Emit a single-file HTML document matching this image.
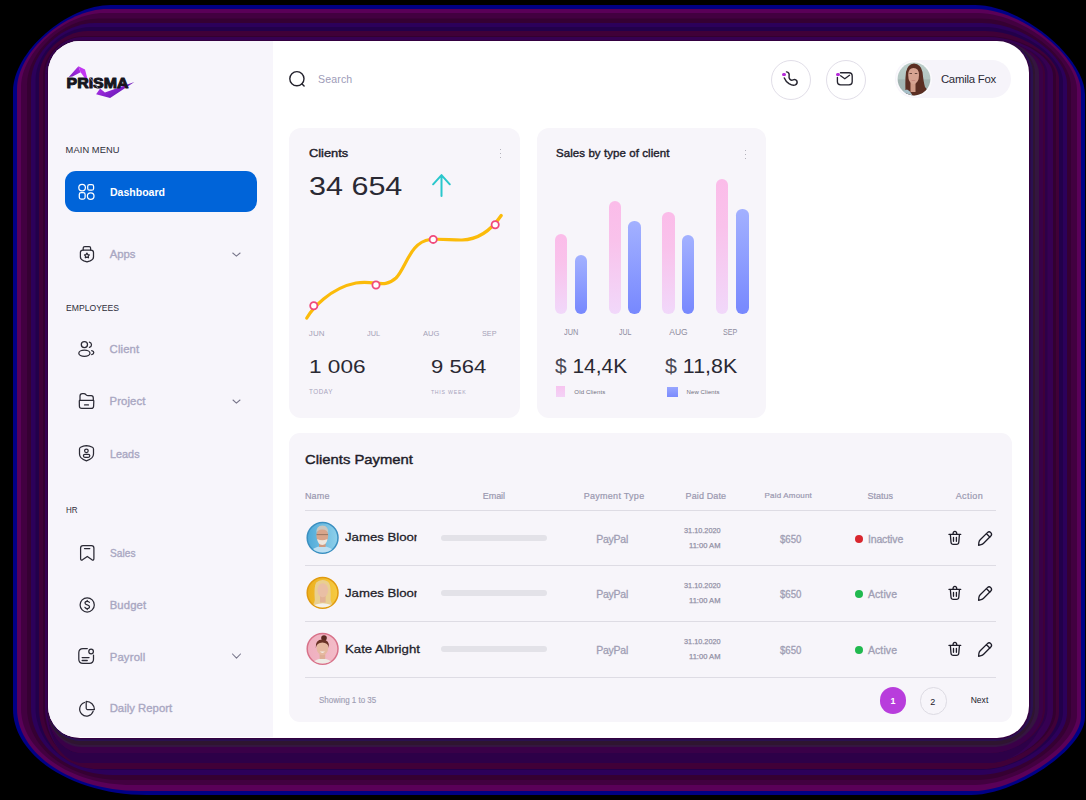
<!DOCTYPE html>
<html><head><meta charset="utf-8"><style>
html,body{margin:0;padding:0;}
body{width:1086px;height:800px;background:#000;position:relative;overflow:hidden;font-family:"Liberation Sans",sans-serif;}
.b{position:absolute;box-sizing:content-box;}
svg.b{overflow:visible;}
.t{position:absolute;white-space:nowrap;line-height:1;}
</style></head><body>
<svg class="b" style="left:0;top:0" width="1086" height="800" viewBox="0 0 1086 800"><path d="M111 5 L975 5 C1021.2 5 1085 57.2 1085 95 L1085 717 C1085 748.2 1016.6 795 971 795 L147 795 C73.3 795 13 756.3 13 709 L13 91 C13 52.3 66.9 5 111 5 Z" fill="#000086"/><path d="M107.46 9 L976.57 9 C1021.42 9 1081 56.67 1081 92.56 L1081 716.23 C1081 746.94 1017.27 791 972.86 791 L139.34 791 C72.03 791 17 754.02 17 708.79 L17 89 C17 52.09 65.72 9 107.46 9 Z" fill="#5a0058"/><path d="M103.91 13 L978.14 13 C1021.53 13 1077 56.27 1077 90.11 L1077 715.07 C1077 744.56 1017.85 785 974.71 785 L131.69 785 C70.76 785 21 750.59 21 708.47 L21 87 C21 52.02 64.72 13 103.91 13 Z" fill="#420040"/><path d="M98.6 18.5 L980.5 18.5 C1021.5 18.5 1071 55.83 1071 86.75 L1071 714.11 C1071 742.97 1018.46 780 977.5 780 L120.2 780 C68.88 780 27 747.74 27 708.21 L27 84.25 C27 52.14 63.63 18.5 98.6 18.5 Z" fill="#350032"/><path d="M95.06 23 L982.07 23 C1021.35 23 1067 55.79 1067 84 L1067 713.14 C1067 740.91 1018.7 775 979.36 775 L112.54 775 C67.63 775 31 744.88 31 707.95 L31 82 C31 52.43 62.95 23 95.06 23 Z" fill="#2c005a"/><path d="M91.07 27 L983.64 27 C1021.1 27 1063 55.81 1063 81.56 L1063 712.18 C1063 738.77 1018.82 770 981.21 770 L103.93 770 C66.22 770 35.5 742.02 35.5 707.68 L35.5 80 C35.5 52.84 62.59 27 91.07 27 Z" fill="#22004a"/><path d="M87.97 31 L985.21 31 C1020.74 31 1059 55.95 1059 79.11 L1059 711.98 C1059 738.75 1018.72 769 983.07 769 L97.23 769 C65.14 769 39 741.45 39 707.63 L39 78 C39 53.38 62.32 31 87.97 31 Z" fill="#400038"/><path d="M84.43 36 L986.39 36 C1020.4 36 1056 56.49 1056 76.06 L1056 710.82 C1056 735.81 1018.72 763 984.46 763 L89.57 763 C63.9 763 43 738.01 43 707.32 L43 75.5 C43 54.26 62.15 36 84.43 36 Z" fill="#330030"/><path d="M82.66 37 L987.57 37 C1020 37 1053 56.39 1053 75.44 L1053 710.82 C1053 736.16 1018.46 763 985.86 763 L85.74 763 C63.28 763 45 738.01 45 707.32 L45 75 C45 54.44 62.29 37 82.66 37 Z" fill="#360052"/><path d="M80.89 40 L991.11 40 C1018.45 40 1044 56.24 1044 73.61 L1044 710.82 C1044 736.16 1016.24 763 990.04 763 L81.91 763 C62.67 763 47 738.01 47 707.32 L47 73.5 C47 55.1 62.27 40 80.89 40 Z" fill="#2d0048"/><path d="M80.89 40 L989.73 40 C1019.11 40 1047.5 56.52 1047.5 73.61 L1047.5 708.89 C1047.5 731.03 1018.07 753 988.41 753 L81.91 753 C62.65 753 47 732.28 47 706.79 L47 73.5 C47 55.1 62.27 40 80.89 40 Z" fill="#2d0048"/><path d="M80.89 40 L990.71 40 C1018.64 40 1045 56.32 1045 73.61 L1045 708.89 C1045 731.33 1017.77 753 989.57 753 L81.91 753 C62.65 753 47 732.28 47 706.79 L47 73.5 C47 55.1 62.27 40 80.89 40 Z" fill="#400038"/><path d="M80.89 40 L991.5 40 C1018.24 40 1043 56.16 1043 73.61 L1043 708.89 C1043 731.49 1017.39 753 990.5 753 L81.91 753 C62.65 753 47 732.28 47 706.79 L47 73.5 C47 55.1 62.27 40 80.89 40 Z" fill="#3a0048"/><path d="M80.89 40 L993.07 40 C1017.35 40 1039 55.84 1039 73.61 L1039 707.74 C1039 728.35 1016.85 747 992.36 747 L81.91 747 C62.64 747 47 728.84 47 706.47 L47 73.5 C47 55.1 62.27 40 80.89 40 Z" fill="#341540"/><path d="M80.89 40 L994.64 40 C1016.36 40 1035 55.52 1035 73.61 L1035 707.35 C1035 727.44 1015.98 745 994.21 745 L81.91 745 C62.64 745 47 727.69 47 706.37 L47 73.5 C47 55.1 62.27 40 80.89 40 Z" fill="#2e1530"/><path d="M80.89 40 L995.43 40 C1015.82 40 1033 55.37 1033 73.61 L1033 706.58 C1033 725.22 1015.64 741 995.14 741 L81.91 741 C62.64 741 47 725.4 47 706.16 L47 73.5 C47 55.1 62.27 40 80.89 40 Z" fill="#2a1050"/><path d="M80.89 40 L996.41 40 C1015.11 40 1030.5 55.17 1030.5 73.61 L1030.5 706.23 C1030.5 724.31 1015.05 739.2 996.3 739.2 L81.91 739.2 C62.63 739.2 47 724.36 47 706.06 L47 73.5 C47 55.1 62.27 40 80.89 40 Z" fill="#330040"/></svg>
<div class="b" style="left:48px;top:41px;width:981px;height:697px;background:#fff;border-radius:32px;overflow:hidden"><div class="b" style="left:0;top:0;width:225.4px;height:695.6px;background:#f7f5fb"></div></div>
<svg class="b" style="left:60px;top:60px" width="80" height="40" viewBox="0 0 80 40">
<defs><linearGradient id="lg1" x1="0" y1="0" x2="1" y2="0.6"><stop offset="0" stop-color="#c03cf0"/><stop offset="0.5" stop-color="#8a22d0"/><stop offset="1" stop-color="#5a1aa8"/></linearGradient>
<linearGradient id="lg2" x1="0" y1="1" x2="1" y2="0"><stop offset="0" stop-color="#7a1cc0"/><stop offset="1" stop-color="#b430e8"/></linearGradient></defs>
<polygon points="8.8,16.9 18.4,6.3 20.6,12.2 12.5,16.6" fill="url(#lg2)"/>
<polygon points="18.4,6.3 25,9.6 28.7,23.6 20.6,12.2" fill="#c236f2"/>
<polygon points="36.1,34.3 40.1,28.4 44.9,32.4 74.4,22.1 50.1,37.9" fill="url(#lg1)"/>
<text x="6.6" y="28.3" font-family="Liberation Sans" font-weight="700" font-size="14.9" fill="#17161e" stroke="#17161e" stroke-width="1.0" stroke-linejoin="round" textLength="61.8" lengthAdjust="spacingAndGlyphs">PRISMA</text>
<line x1="30" y1="18" x2="38" y2="28" stroke="#f7f5fb" stroke-width="0.5"/>
</svg>
<div class="t" id="mm" style="left:65.60px;top:145.53px;font-size:9.3px;color:#2e2d3a;font-weight:400;letter-spacing:0.089px;">MAIN MENU</div>
<div class="b" style="left:65.2px;top:171.4px;width:191.5px;height:41px;background:#0064d9;border-radius:11px"></div>
<div class="t" id="dash" style="left:109.90px;top:186.50px;font-size:11.1px;color:#fff;font-weight:700;letter-spacing:0.000px;transform:scaleX(0.9490);transform-origin:0 0;">Dashboard</div>
<div class="t" id="apps" style="left:109.70px;top:248.63px;font-size:11.3px;color:#a9a7c2;font-weight:400;letter-spacing:0.000px;-webkit-text-stroke:0.35px #a9a7c2;transform:scaleX(1.0000);transform-origin:0 0;">Apps</div>
<div class="t" id="emp" style="left:65.60px;top:303.53px;font-size:9.3px;color:#2e2d3a;font-weight:400;letter-spacing:0.000px;transform:scaleX(0.9256);transform-origin:0 0;">EMPLOYEES</div>
<div class="t" id="client" style="left:109.60px;top:343.93px;font-size:11.3px;color:#a9a7c2;font-weight:400;letter-spacing:0.131px;-webkit-text-stroke:0.35px #a9a7c2;">Client</div>
<div class="t" id="project" style="left:109.60px;top:395.93px;font-size:11.3px;color:#a9a7c2;font-weight:400;letter-spacing:0.097px;-webkit-text-stroke:0.35px #a9a7c2;">Project</div>
<div class="t" id="leads" style="left:109.60px;top:448.93px;font-size:11.3px;color:#a9a7c2;font-weight:400;letter-spacing:0.000px;-webkit-text-stroke:0.35px #a9a7c2;transform:scaleX(0.9605);transform-origin:0 0;">Leads</div>
<div class="t" id="hr" style="left:65.60px;top:506.13px;font-size:9.3px;color:#2e2d3a;font-weight:400;letter-spacing:0.000px;transform:scaleX(0.8604);transform-origin:0 0;">HR</div>
<div class="t" id="sales" style="left:109.70px;top:547.83px;font-size:11.3px;color:#a9a7c2;font-weight:400;letter-spacing:0.000px;-webkit-text-stroke:0.35px #a9a7c2;transform:scaleX(0.9018);transform-origin:0 0;">Sales</div>
<div class="t" id="budget" style="left:109.70px;top:600.43px;font-size:11.3px;color:#a9a7c2;font-weight:400;letter-spacing:0.127px;-webkit-text-stroke:0.35px #a9a7c2;">Budget</div>
<div class="t" id="payroll" style="left:109.70px;top:652.33px;font-size:11.3px;color:#a9a7c2;font-weight:400;letter-spacing:0.180px;-webkit-text-stroke:0.35px #a9a7c2;">Payroll</div>
<div class="t" id="daily" style="left:109.70px;top:703.23px;font-size:11.3px;color:#a9a7c2;font-weight:400;letter-spacing:0.026px;-webkit-text-stroke:0.35px #a9a7c2;">Daily Report</div>
<svg class="b" style="left:220px;top:247.3px" width="30" height="16" viewBox="220 247.3 30 16"><path d="M232.75 253.3 L236.4 256.4 L240.1 253.3" fill="none" stroke="#77758a" stroke-width="1.05" stroke-linecap="round" stroke-linejoin="round"/></svg>
<svg class="b" style="left:220px;top:394.2px" width="30" height="16" viewBox="220 394.2 30 16"><path d="M233.0 400.2 L236.4 403.4 L240.0 400.2" fill="none" stroke="#77758a" stroke-width="1.05" stroke-linecap="round" stroke-linejoin="round"/></svg>
<svg class="b" style="left:220px;top:648.2px" width="30" height="16" viewBox="220 648.2 30 16"><path d="M232.5 654.2 L236.5 658.4 L240.5 654.2" fill="none" stroke="#77758a" stroke-width="1.05" stroke-linecap="round" stroke-linejoin="round"/></svg>
<svg class="b" style="left:74px;top:179px" width="26" height="26" viewBox="0 0 26 26" fill="none" stroke="#fff" stroke-width="1.25" stroke-linecap="round" stroke-linejoin="round"><circle cx="8.1" cy="8.6" r="3.3"/><rect x="13.7" y="5.6" width="5.9" height="5.6" rx="1.8"/><rect x="5.3" y="13.7" width="5.8" height="6.3" rx="1.8"/><circle cx="16.7" cy="17.1" r="3.3"/></svg>
<svg class="b" style="left:74px;top:241px" width="26" height="26" viewBox="0 0 26 26" fill="none" stroke="#2b2a35" stroke-width="1.25" stroke-linecap="round" stroke-linejoin="round"><path d="M9.2 9 V7 Q9.2 5.6 10.8 5.6 H15.2 Q16.6 5.6 16.6 7 V9"/><path d="M6.4 11.6 Q6.4 9.1 9 9.1 H16.9 Q19.5 9.1 19.5 11.6 V16 Q19.5 18.6 16.2 19.8 L13 20.8 L9.8 19.8 Q6.4 18.6 6.4 16 Z"/><path d="M12.9 12.1 L13.8 13.6 L15.3 13.9 L14.3 15.2 L14.5 16.8 L12.9 16.1 L11.3 16.8 L11.5 15.2 L10.5 13.9 L12 13.6 Z" stroke-width="1.2"/></svg>
<svg class="b" style="left:74px;top:336px" width="26" height="26" viewBox="0 0 26 26" fill="none" stroke="#2b2a35" stroke-width="1.25" stroke-linecap="round" stroke-linejoin="round"><circle cx="10.4" cy="8.6" r="3.1"/><ellipse cx="10.4" cy="17.2" rx="5.6" ry="3.1"/><path d="M15.4 6.1 Q17.5 6.6 17.5 8.8 Q17.5 10.9 15.4 11.4"/><path d="M17.7 14.6 Q19.8 15.2 19.8 16.6 Q19.8 18.1 17.7 18.7"/></svg>
<svg class="b" style="left:74px;top:388px" width="26" height="26" viewBox="0 0 26 26" fill="none" stroke="#2b2a35" stroke-width="1.25" stroke-linecap="round" stroke-linejoin="round"><path d="M6 12.3 V8 Q6 5.6 8.4 5.6 H9.9 Q11 5.6 11.8 6.5 L12.4 7.1 Q13 7.7 14 7.7 H17.2 Q19.3 7.7 19.3 10 V12.3"/><path d="M5.9 12.3 H19.3 Q19.8 12.3 19.8 13 L19.6 18.2 Q19.5 20.4 17.3 20.4 H7.7 Q5.5 20.4 5.4 18.2 L5.3 13 Q5.3 12.3 5.9 12.3 Z"/><path d="M10.6 16.9 H14.4" stroke-width="1.4"/></svg>
<svg class="b" style="left:74px;top:441px" width="26" height="26" viewBox="0 0 26 26" fill="none" stroke="#2b2a35" stroke-width="1.25" stroke-linecap="round" stroke-linejoin="round"><path d="M12.4 4.6 Q15.6 5 18.4 6.2 Q19.5 6.7 19.5 8 V13 Q19.5 17.6 12.4 19.9 Q5.5 17.6 5.5 13 V8 Q5.5 6.7 6.6 6.2 Q9.2 5 12.4 4.6 Z"/><circle cx="12.4" cy="9.8" r="1.8"/><rect x="9.4" y="13.3" width="6.4" height="3" rx="1.5"/></svg>
<svg class="b" style="left:74px;top:540px" width="26" height="26" viewBox="0 0 26 26" fill="none" stroke="#2b2a35" stroke-width="1.25" stroke-linecap="round" stroke-linejoin="round"><path d="M6.6 8 Q6.6 5.5 9 5.5 H17.5 Q19.9 5.5 19.9 8 V18.6 Q19.9 20.6 18 19.8 L13.3 16.4 L8.5 19.8 Q6.6 20.6 6.6 18.6 Z"/><path d="M10.5 8.5 H15.8"/></svg>
<svg class="b" style="left:74px;top:593px" width="26" height="26" viewBox="0 0 26 26" fill="none" stroke="#2b2a35" stroke-width="1.25" stroke-linecap="round" stroke-linejoin="round"><circle cx="13.2" cy="11.9" r="7.1"/><path d="M15.4 9.4 Q15 8.3 13.2 8.3 Q11 8.3 11 10 Q11 11.4 13.2 11.8 Q15.5 12.2 15.5 13.8 Q15.5 15.6 13.2 15.6 Q11.3 15.6 10.9 14.3"/><path d="M13.2 7.4 V8.3 M13.2 15.6 V16.6"/></svg>
<svg class="b" style="left:74px;top:644px" width="26" height="26" viewBox="0 0 26 26" fill="none" stroke="#2b2a35" stroke-width="1.25" stroke-linecap="round" stroke-linejoin="round"><path d="M13.3 4.6 H9 Q4.8 4.6 4.8 8.8 V15.3 Q4.8 19.4 9 19.4 H15.3 Q19.5 19.4 19.5 15.3 V11"/><circle cx="17.1" cy="7.5" r="2.3"/><path d="M8.2 13.6 H15 M8.2 16.5 H13.2" stroke-width="1.4"/></svg>
<svg class="b" style="left:74px;top:695px" width="26" height="26" viewBox="0 0 26 26" fill="none" stroke="#2b2a35" stroke-width="1.25" stroke-linecap="round" stroke-linejoin="round"><path d="M10.6 7.5 A6.9 6.9 0 1 0 19.2 16.1"/><path d="M12.2 6.3 A8.2 8.2 0 0 1 20.4 14.5 H13.4 Q12.2 14.5 12.2 13.3 Z"/></svg>
<svg class="b" style="left:287.5px;top:69.5px" width="19" height="19" viewBox="0 0 19 19" fill="none" stroke="#22212c" stroke-width="1.4" stroke-linecap="round" stroke-linejoin="round"><circle cx="8.9" cy="8.7" r="7.1"/><path d="M14 14 L16.1 16.1"/></svg>
<div class="t" id="search" style="left:318.00px;top:73.83px;font-size:10.6px;color:#9e9cb8;font-weight:400;letter-spacing:0.125px;">Search</div>
<div class="b" style="left:770.5px;top:59.5px;width:38px;height:38px;border:1px solid #e1dee8;border-radius:50%"></div>
<div class="b" style="left:825.5px;top:59.5px;width:38px;height:38px;border:1px solid #e1dee8;border-radius:50%"></div>
<svg class="b" style="left:778px;top:66px" width="25" height="25" viewBox="0 0 25 25" fill="none" stroke="#25242f" stroke-width="1.45" stroke-linecap="round" stroke-linejoin="round"><path d="M8.5 5.9 Q11.6 6.5 11.1 9.6 Q10.6 12 12 13.4 Q13.5 14.7 15.1 13.8 Q17.5 12.7 18.9 15 Q19.8 17.6 17.4 18.9 Q14.8 20.1 11 17.6 Q7.6 15.2 6.3 11.9"/></svg>
<div class="b" style="left:782.2px;top:72.6px;width:3.6px;height:3.6px;background:#b52ad8;border-radius:50%"></div>
<svg class="b" style="left:833px;top:66px" width="25" height="25" viewBox="0 0 25 25" fill="none" stroke="#25242f" stroke-width="1.35" stroke-linecap="round" stroke-linejoin="round"><path d="M7.5 6.7 H16 Q19.2 6.7 19.2 10 V15.6 Q19.2 18.8 16 18.8 H7.6 Q4.4 18.8 4.4 15.6 V11.3"/><path d="M7.6 9.8 L11.8 12.7 L16.5 9.3"/></svg>
<div class="b" style="left:836.1px;top:72.6px;width:3.5px;height:3.5px;background:#b52ad8;border-radius:50%"></div>
<div class="b" style="left:895px;top:60px;width:115.5px;height:37.5px;background:#f6f4fa;border-radius:19px"></div>
<div class="b" style="left:896px;top:61px;width:36px;height:36px;background:#fbfafd;border-radius:50%"></div>
<svg class="b" style="left:894px;top:60px" width="40" height="38" viewBox="0 0 40 38">
<defs><clipPath id="ca"><circle cx="20" cy="19" r="16.4"/></clipPath>
<linearGradient id="cabg" x1="0" y1="0" x2="0" y2="1"><stop offset="0" stop-color="#bfd0cc"/><stop offset="0.5" stop-color="#b2c5c1"/><stop offset="0.52" stop-color="#a3b5b2"/><stop offset="1" stop-color="#9fb3b1"/></linearGradient></defs>
<g clip-path="url(#ca)">
<rect width="40" height="38" fill="url(#cabg)"/>
<path d="M11.5 31 Q11 20 12 12 Q13.5 4 20 3.5 Q27 4 28.5 12 Q29.5 22 31 27 Q33 30 36 32 L30 38 H12 Z" fill="#5b2e22"/>
<path d="M4 38 Q6 31 13 29.5 Q17 31 19.5 38 Z" fill="#a6bfc8"/>
<rect x="16.5" y="22" width="5" height="10" fill="#cf9a86"/>
<path d="M14.2 15 Q14.2 8 19.5 8 Q25 8 25 15 Q25 23 19.5 24.5 Q14.2 23 14.2 15 Z" fill="#d6a391"/>
<path d="M17 19.8 Q19.3 21.2 21.8 19.8 Q19.3 22.2 17 19.8 Z" fill="#b8706a"/>
<path d="M15.5 13.5 H18 M20.8 13.5 H23.3" stroke="#4a3028" stroke-width="0.8"/>
</g></svg>
<div class="t" id="camila" style="left:940.90px;top:74.25px;font-size:11.4px;color:#2a2936;font-weight:400;letter-spacing:-0.245px;">Camila Fox</div>
<div class="b" style="left:289px;top:128.3px;width:230.7px;height:289.5px;background:#f7f5fa;border-radius:12px"></div>
<div class="t" id="clients" style="left:308.90px;top:147.57px;font-size:11.5px;color:#22212c;font-weight:400;letter-spacing:0.000px;-webkit-text-stroke:0.4px #22212c;transform:scaleX(1.1158);transform-origin:0 0;">Clients</div>
<div class="b" style="left:499.60px;top:148.50px;width:1.8px;height:1.8px;background:#9f9da8;border-radius:50%"></div>
<div class="b" style="left:499.60px;top:152.50px;width:1.8px;height:1.8px;background:#9f9da8;border-radius:50%"></div>
<div class="b" style="left:499.60px;top:156.50px;width:1.8px;height:1.8px;background:#9f9da8;border-radius:50%"></div>
<div class="t" id="big" style="left:309.30px;top:172.59px;font-size:26px;color:#2a2933;font-weight:400;letter-spacing:0.000px;transform:scaleX(1.1737);transform-origin:0 0;">34 654</div>
<svg class="b" style="left:430px;top:172px" width="24" height="27" viewBox="0 0 24 27"><path d="M11.5 24.1 V3.3 M3.1 12.3 L11.5 3.1 L19.8 12.3" fill="none" stroke="#2ac7cc" stroke-width="2" stroke-linecap="round" stroke-linejoin="round"/></svg>
<svg class="b" style="left:289px;top:200px" width="231" height="130" viewBox="289 200 231 130">
<path d="M306.8 318 C 312 309, 330 288, 356 283 C 376 280, 384 289, 396 278 C 406 268, 410 242, 430 239.5 C 440 238.5, 452 240.2, 462 240 C 480 239.5, 492 229, 501.2 215.5" fill="none" stroke="#fbbb0a" stroke-width="3.2" stroke-linecap="round"/>
<circle cx="313.8" cy="305.7" r="3.6" fill="#fff" stroke="#f04a7c" stroke-width="1.8"/>
<circle cx="376" cy="285" r="3.6" fill="#fff" stroke="#f04a7c" stroke-width="1.8"/>
<circle cx="433.2" cy="239.4" r="3.6" fill="#fff" stroke="#f04a7c" stroke-width="1.8"/>
<circle cx="495.2" cy="224.7" r="3.6" fill="#fff" stroke="#f04a7c" stroke-width="1.8"/>
</svg>
<div class="t" id="jun1" style="left:308.80px;top:329.93px;font-size:8px;color:#a4a1b8;font-weight:400;letter-spacing:0.111px;">JUN</div>
<div class="t" id="jul1" style="left:366.90px;top:329.93px;font-size:8px;color:#a4a1b8;font-weight:400;letter-spacing:0.000px;transform:scaleX(0.9203);transform-origin:0 0;">JUL</div>
<div class="t" id="aug1" style="left:423.00px;top:329.93px;font-size:8px;color:#a4a1b8;font-weight:400;letter-spacing:0.000px;transform:scaleX(0.9466);transform-origin:0 0;">AUG</div>
<div class="t" id="sep1" style="left:482.40px;top:329.93px;font-size:8px;color:#a4a1b8;font-weight:400;letter-spacing:0.000px;transform:scaleX(0.9061);transform-origin:0 0;">SEP</div>
<div class="t" id="today_n" style="left:308.90px;top:358.14px;font-size:18.5px;color:#2a2933;font-weight:400;letter-spacing:0.000px;transform:scaleX(1.2220);transform-origin:0 0;">1 006</div>
<div class="t" id="week_n" style="left:430.90px;top:358.14px;font-size:18.5px;color:#2a2933;font-weight:400;letter-spacing:0.000px;transform:scaleX(1.1911);transform-origin:0 0;">9 564</div>
<div class="t" id="today" style="left:308.90px;top:389.47px;font-size:6.3px;color:#a8a4bc;font-weight:400;letter-spacing:0.597px;">TODAY</div>
<div class="t" id="week" style="left:430.90px;top:390.40px;font-size:5.2px;color:#a8a4bc;font-weight:400;letter-spacing:0.778px;">THIS WEEK</div>
<div class="b" style="left:537.2px;top:128.3px;width:228.8px;height:289.5px;background:#f7f5fa;border-radius:12px"></div>
<div class="b" style="left:744.60px;top:149.50px;width:1.8px;height:1.8px;background:#9f9da8;border-radius:50%"></div>
<div class="b" style="left:744.60px;top:153.50px;width:1.8px;height:1.8px;background:#9f9da8;border-radius:50%"></div>
<div class="b" style="left:744.60px;top:157.50px;width:1.8px;height:1.8px;background:#9f9da8;border-radius:50%"></div>
<div class="t" id="sales_t" style="left:556.00px;top:147.57px;font-size:11.5px;color:#22212c;font-weight:400;letter-spacing:0.069px;-webkit-text-stroke:0.4px #22212c;">Sales by type of client</div>
<div class="b" style="left:554.8px;top:233.9px;width:12.4px;height:80.4px;background:linear-gradient(#fbbce9 0%,#f9c2eb 35%,#f1d8fa 100%);border-radius:6.2px"></div>
<div class="b" style="left:575px;top:254.8px;width:12.4px;height:59.5px;background:linear-gradient(#a3b1ff,#7788fe);border-radius:6.2px"></div>
<div class="b" style="left:609px;top:201px;width:12.4px;height:113.30000000000001px;background:linear-gradient(#fbbce9 0%,#f9c2eb 35%,#f1d8fa 100%);border-radius:6.2px"></div>
<div class="b" style="left:628.3px;top:221px;width:12.4px;height:93.30000000000001px;background:linear-gradient(#a3b1ff,#7788fe);border-radius:6.2px"></div>
<div class="b" style="left:662.4px;top:212px;width:12.4px;height:102.30000000000001px;background:linear-gradient(#fbbce9 0%,#f9c2eb 35%,#f1d8fa 100%);border-radius:6.2px"></div>
<div class="b" style="left:681.9px;top:235.2px;width:12.4px;height:79.10000000000002px;background:linear-gradient(#a3b1ff,#7788fe);border-radius:6.2px"></div>
<div class="b" style="left:715.6px;top:178.7px;width:12.4px;height:135.60000000000002px;background:linear-gradient(#fbbce9 0%,#f9c2eb 35%,#f1d8fa 100%);border-radius:6.2px"></div>
<div class="b" style="left:736.3px;top:208.5px;width:12.4px;height:105.80000000000001px;background:linear-gradient(#a3b1ff,#7788fe);border-radius:6.2px"></div>
<div class="t" id="jun2" style="left:564.00px;top:328.30px;font-size:8.5px;color:#8e8c9e;font-weight:400;letter-spacing:0.000px;transform:scaleX(0.8665);transform-origin:0 0;">JUN</div>
<div class="t" id="jul2" style="left:618.70px;top:328.30px;font-size:8.5px;color:#8e8c9e;font-weight:400;letter-spacing:0.000px;transform:scaleX(0.8253);transform-origin:0 0;">JUL</div>
<div class="t" id="aug2" style="left:669.20px;top:328.30px;font-size:8.5px;color:#8e8c9e;font-weight:400;letter-spacing:0.046px;">AUG</div>
<div class="t" id="sep2" style="left:723.20px;top:328.30px;font-size:8.5px;color:#8e8c9e;font-weight:400;letter-spacing:0.000px;transform:scaleX(0.8478);transform-origin:0 0;">SEP</div>
<div class="t" id="old_n" style="left:555.30px;top:357.49px;font-size:19.5px;color:#2a2933;font-weight:400;letter-spacing:0.000px;transform:scaleX(1.0727);transform-origin:0 0;"><span style="color:#4a4954">$</span> 14,4K</div>
<div class="t" id="new_n" style="left:665.00px;top:357.49px;font-size:19.5px;color:#2a2933;font-weight:400;letter-spacing:0.000px;transform:scaleX(1.0978);transform-origin:0 0;"><span style="color:#4a4954">$</span> 11,8K</div>
<div class="b" style="left:555.8px;top:386.3px;width:9.5px;height:10.7px;background:linear-gradient(#f7c4ef,#f3d2f6)"></div>
<div class="b" style="left:667.3px;top:387.4px;width:11.1px;height:9.7px;background:linear-gradient(#98a6ff,#7b8bfd)"></div>
<div class="t" id="old_l" style="left:574.30px;top:389.02px;font-size:6px;color:#6f6e7c;font-weight:400;letter-spacing:0.166px;">Old Clients</div>
<div class="t" id="new_l" style="left:686.60px;top:389.02px;font-size:6px;color:#6f6e7c;font-weight:400;letter-spacing:0.089px;">New Clients</div>
<div class="b" style="left:288.7px;top:433.4px;width:723.2px;height:289px;background:#f7f5fa;border-radius:11px"></div>
<div class="t" id="cp" style="left:304.90px;top:452.83px;font-size:13.2px;color:#1e1d29;font-weight:400;letter-spacing:0.000px;-webkit-text-stroke:0.4px #1e1d29;transform:scaleX(1.1240);transform-origin:0 0;">Clients Payment</div>
<div class="t" id="h_name" style="left:304.90px;top:491.68px;font-size:9px;color:#9a98b0;font-weight:400;letter-spacing:0.166px;-webkit-text-stroke:0.2px #9a98b0;">Name</div>
<div class="t" id="h_email" style="left:482.70px;top:491.68px;font-size:9px;color:#9a98b0;font-weight:400;letter-spacing:-0.026px;-webkit-text-stroke:0.2px #9a98b0;">Email</div>
<div class="t" id="h_pt" style="left:583.70px;top:491.68px;font-size:9px;color:#9a98b0;font-weight:400;letter-spacing:0.280px;-webkit-text-stroke:0.2px #9a98b0;">Payment Type</div>
<div class="t" id="h_pd" style="left:685.50px;top:491.68px;font-size:9px;color:#9a98b0;font-weight:400;letter-spacing:0.123px;-webkit-text-stroke:0.2px #9a98b0;">Paid Date</div>
<div class="t" id="h_pa" style="left:764.50px;top:492.23px;font-size:8px;color:#9a98b0;font-weight:400;letter-spacing:0.192px;-webkit-text-stroke:0.2px #9a98b0;">Paid Amount</div>
<div class="t" id="h_st" style="left:867.60px;top:491.68px;font-size:9px;color:#9a98b0;font-weight:400;letter-spacing:-0.043px;-webkit-text-stroke:0.2px #9a98b0;">Status</div>
<div class="t" id="h_ac" style="left:955.70px;top:491.68px;font-size:9px;color:#9a98b0;font-weight:400;letter-spacing:0.418px;-webkit-text-stroke:0.2px #9a98b0;">Action</div>
<div class="b" style="left:304.9px;top:510.0px;width:691.5px;height:1px;background:#dedce4"></div>
<div class="b" style="left:304.9px;top:565.0px;width:691.5px;height:1px;background:#dedce4"></div>
<div class="b" style="left:304.9px;top:620.5px;width:691.5px;height:1px;background:#dedce4"></div>
<div class="b" style="left:304.9px;top:676.5px;width:691.5px;height:1px;background:#dedce4"></div>
<svg class="b" style="left:304px;top:519.8px" width="36" height="36" viewBox="0 0 36 36"><clipPath id="av0"><circle cx="18.6" cy="17.8" r="14.7"/></clipPath><defs><linearGradient id="bg0" x1="0" x2="1"><stop offset="0" stop-color="#4ea9d8"/><stop offset="1" stop-color="#8fd0ea"/></linearGradient></defs><circle cx="18.6" cy="17.8" r="15.4" fill="url(#bg0)" stroke="#3b8fc0" stroke-width="1.5"/><g clip-path="url(#av0)"><path d="M4 36 Q6.5 26.8 18.3 26.2 Q30 26.8 33 36 Z" fill="#bcdff2"/><rect x="15" y="21" width="6.6" height="6" fill="#cf9a80"/><ellipse cx="18.3" cy="15.8" rx="5.9" ry="7.8" fill="#d9a58b"/><path d="M12.3 13.5 Q11.8 5.8 18.3 5.5 Q24.8 5.8 24.3 13.5 Q23.6 9.6 18.3 9.4 Q13 9.6 12.3 13.5 Z" fill="#cbc6be"/><path d="M12.6 14.6 H24" stroke="#8a6a58" stroke-width="0.8"/><path d="M13.2 19 Q13.6 24.6 18.3 24.9 Q23 24.6 23.4 19 Q18.3 21.6 13.2 19 Z" fill="#ede7df"/></g></svg>
<div class="t" id="name0" style="left:345.00px;top:532.35px;font-size:11.4px;color:#1e1d29;font-weight:400;letter-spacing:0.000px;-webkit-text-stroke:0.28px #1e1d29;transform:scaleX(1.1573);transform-origin:0 0;max-width:62.39px;overflow:hidden">James Bloor</div>
<div class="b" style="left:440.5px;top:534.9px;width:106.8px;height:6.2px;background:#e3e2e8;border-radius:3.1px"></div>
<div class="t" id="pp0" style="left:596.30px;top:534.11px;font-size:10.5px;color:#a09eb4;font-weight:400;letter-spacing:-0.267px;-webkit-text-stroke:0.3px #a09eb4;">PayPal</div>
<div class="t" id="dt0" style="left:684.10px;top:527.23px;font-size:8px;color:#9290a6;font-weight:400;letter-spacing:0.000px;-webkit-text-stroke:0.25px #9290a6;transform:scaleX(0.9140);transform-origin:0 0;">31.10.2020</div>
<div class="t" id="tm0" style="left:689.00px;top:542.03px;font-size:8px;color:#9290a6;font-weight:400;letter-spacing:0.000px;-webkit-text-stroke:0.25px #9290a6;transform:scaleX(0.9475);transform-origin:0 0;">11:00 AM</div>
<div class="t" id="amt0" style="left:779.90px;top:534.11px;font-size:10.5px;color:#a09eb4;font-weight:400;letter-spacing:0.000px;-webkit-text-stroke:0.3px #a09eb4;transform:scaleX(0.9184);transform-origin:0 0;">$650</div>
<div class="b" style="left:854.5px;top:534.9px;width:8px;height:8px;background:#d9262e;border-radius:50%"></div>
<div class="t" id="st0" style="left:867.90px;top:534.11px;font-size:10.5px;color:#a09eb4;font-weight:400;letter-spacing:-0.121px;-webkit-text-stroke:0.3px #a09eb4;">Inactive</div>
<svg class="b" style="left:944px;top:526.0px" width="22" height="22" viewBox="0 0 22 22" fill="none" stroke="#1e1d29" stroke-width="1.3" stroke-linecap="round" stroke-linejoin="round"><path d="M5 8.4 H16.7"/><path d="M9 8.2 Q9 5.3 10.9 5.3 Q12.8 5.3 12.8 8.2"/><path d="M6.4 9 L7 16.2 Q7.2 18.4 9.4 18.4 H12.4 Q14.6 18.4 14.8 16.2 L15.4 9"/><path d="M9.5 11.5 V15.3 M12.4 11.5 V15.3"/></svg>
<svg class="b" style="left:970.6px;top:526.9px" width="24" height="22" viewBox="0 0 24 22" fill="none" stroke="#1e1d29" stroke-width="1.3" stroke-linecap="round" stroke-linejoin="round"><path d="M7.6 18.3 L7.9 15.3 Q8.2 13.8 9.2 12.8 L16.4 5.6 Q18.1 4 19.8 5.6 Q21.4 7.3 19.8 9 L12.6 16.2 Q11.6 17.2 10.1 17.6 Z"/><path d="M15.5 6.7 L18.8 10"/></svg>
<svg class="b" style="left:304px;top:575px" width="36" height="36" viewBox="0 0 36 36"><clipPath id="av1"><circle cx="18.6" cy="17.8" r="14.7"/></clipPath><defs><linearGradient id="bg1" x1="0" x2="1"><stop offset="0" stop-color="#ecb01e"/><stop offset="1" stop-color="#f6ca42"/></linearGradient></defs><circle cx="18.6" cy="17.8" r="15.4" fill="url(#bg1)" stroke="#e09a10" stroke-width="1.5"/><g clip-path="url(#av1)"><path d="M10.8 25 Q9.8 11 12.2 7.5 Q15 4.8 18.8 5 Q23.2 5.2 25.2 8.2 Q27.2 12 26.6 25 Q27.2 28 29 30 L8.5 30 Q10.8 27.5 10.8 25 Z" fill="#e9cf90"/><path d="M6 36 Q8 28.5 18.8 28.2 Q29.5 28.5 31.5 36 Z" fill="#f5f1ea"/><rect x="16" y="21" width="5.6" height="6.5" fill="#e2b296"/><ellipse cx="18.8" cy="15.2" rx="5.3" ry="7" fill="#e9bfa5"/></g></svg>
<div class="t" id="name1" style="left:345.00px;top:587.55px;font-size:11.4px;color:#1e1d29;font-weight:400;letter-spacing:0.000px;-webkit-text-stroke:0.28px #1e1d29;transform:scaleX(1.1573);transform-origin:0 0;max-width:62.39px;overflow:hidden">James Bloor</div>
<div class="b" style="left:440.5px;top:590.1px;width:106.8px;height:6.2px;background:#e3e2e8;border-radius:3.1px"></div>
<div class="t" id="pp1" style="left:596.30px;top:589.31px;font-size:10.5px;color:#a09eb4;font-weight:400;letter-spacing:-0.267px;-webkit-text-stroke:0.3px #a09eb4;">PayPal</div>
<div class="t" id="dt1" style="left:684.10px;top:582.43px;font-size:8px;color:#9290a6;font-weight:400;letter-spacing:0.000px;-webkit-text-stroke:0.25px #9290a6;transform:scaleX(0.9140);transform-origin:0 0;">31.10.2020</div>
<div class="t" id="tm1" style="left:689.00px;top:597.23px;font-size:8px;color:#9290a6;font-weight:400;letter-spacing:0.000px;-webkit-text-stroke:0.25px #9290a6;transform:scaleX(0.9475);transform-origin:0 0;">11:00 AM</div>
<div class="t" id="amt1" style="left:779.90px;top:589.31px;font-size:10.5px;color:#a09eb4;font-weight:400;letter-spacing:0.000px;-webkit-text-stroke:0.3px #a09eb4;transform:scaleX(0.9184);transform-origin:0 0;">$650</div>
<div class="b" style="left:854.5px;top:590.1px;width:8px;height:8px;background:#21b94f;border-radius:50%"></div>
<div class="t" id="st1" style="left:867.90px;top:589.31px;font-size:10.5px;color:#a09eb4;font-weight:400;letter-spacing:0.109px;-webkit-text-stroke:0.3px #a09eb4;">Active</div>
<svg class="b" style="left:944px;top:581.2px" width="22" height="22" viewBox="0 0 22 22" fill="none" stroke="#1e1d29" stroke-width="1.3" stroke-linecap="round" stroke-linejoin="round"><path d="M5 8.4 H16.7"/><path d="M9 8.2 Q9 5.3 10.9 5.3 Q12.8 5.3 12.8 8.2"/><path d="M6.4 9 L7 16.2 Q7.2 18.4 9.4 18.4 H12.4 Q14.6 18.4 14.8 16.2 L15.4 9"/><path d="M9.5 11.5 V15.3 M12.4 11.5 V15.3"/></svg>
<svg class="b" style="left:970.6px;top:582.1px" width="24" height="22" viewBox="0 0 24 22" fill="none" stroke="#1e1d29" stroke-width="1.3" stroke-linecap="round" stroke-linejoin="round"><path d="M7.6 18.3 L7.9 15.3 Q8.2 13.8 9.2 12.8 L16.4 5.6 Q18.1 4 19.8 5.6 Q21.4 7.3 19.8 9 L12.6 16.2 Q11.6 17.2 10.1 17.6 Z"/><path d="M15.5 6.7 L18.8 10"/></svg>
<svg class="b" style="left:304px;top:631px" width="36" height="36" viewBox="0 0 36 36"><clipPath id="av2"><circle cx="18.6" cy="17.8" r="14.7"/></clipPath><defs><linearGradient id="bg2" x1="0" x2="1"><stop offset="0" stop-color="#efafbf"/><stop offset="1" stop-color="#f3bcc8"/></linearGradient></defs><circle cx="18.6" cy="17.8" r="15.4" fill="url(#bg2)" stroke="#d8728a" stroke-width="1.5"/><g clip-path="url(#av2)"><path d="M7 36 Q9 28 18.4 27.6 Q27.8 28 30.2 36 Z" fill="#eeebe6"/><rect x="15.6" y="22" width="5.6" height="6" fill="#deae96"/><ellipse cx="18.4" cy="16.8" rx="5.8" ry="7.4" fill="#e6b9a0"/><circle cx="20" cy="7" r="2.8" fill="#5a2a22"/><path d="M11.8 17 Q11 8.8 18.4 8.6 Q25.8 8.8 25 17 Q24.2 11.8 18.4 11.4 Q12.6 11.8 11.8 17 Z" fill="#6a3226"/><path d="M15.8 20.6 Q18.4 23.4 21 20.6 Z" fill="#f4ece6"/></g></svg>
<div class="t" id="name2" style="left:345.00px;top:643.55px;font-size:11.4px;color:#1e1d29;font-weight:400;letter-spacing:0.000px;-webkit-text-stroke:0.28px #1e1d29;transform:scaleX(1.1597);transform-origin:0 0;">Kate Albright</div>
<div class="b" style="left:440.5px;top:646.1px;width:106.8px;height:6.2px;background:#e3e2e8;border-radius:3.1px"></div>
<div class="t" id="pp2" style="left:596.30px;top:645.31px;font-size:10.5px;color:#a09eb4;font-weight:400;letter-spacing:-0.267px;-webkit-text-stroke:0.3px #a09eb4;">PayPal</div>
<div class="t" id="dt2" style="left:684.10px;top:638.43px;font-size:8px;color:#9290a6;font-weight:400;letter-spacing:0.000px;-webkit-text-stroke:0.25px #9290a6;transform:scaleX(0.9140);transform-origin:0 0;">31.10.2020</div>
<div class="t" id="tm2" style="left:689.00px;top:653.23px;font-size:8px;color:#9290a6;font-weight:400;letter-spacing:0.000px;-webkit-text-stroke:0.25px #9290a6;transform:scaleX(0.9475);transform-origin:0 0;">11:00 AM</div>
<div class="t" id="amt2" style="left:779.90px;top:645.31px;font-size:10.5px;color:#a09eb4;font-weight:400;letter-spacing:0.000px;-webkit-text-stroke:0.3px #a09eb4;transform:scaleX(0.9184);transform-origin:0 0;">$650</div>
<div class="b" style="left:854.5px;top:646.1px;width:8px;height:8px;background:#21b94f;border-radius:50%"></div>
<div class="t" id="st2" style="left:867.90px;top:645.31px;font-size:10.5px;color:#a09eb4;font-weight:400;letter-spacing:0.109px;-webkit-text-stroke:0.3px #a09eb4;">Active</div>
<svg class="b" style="left:944px;top:637.2px" width="22" height="22" viewBox="0 0 22 22" fill="none" stroke="#1e1d29" stroke-width="1.3" stroke-linecap="round" stroke-linejoin="round"><path d="M5 8.4 H16.7"/><path d="M9 8.2 Q9 5.3 10.9 5.3 Q12.8 5.3 12.8 8.2"/><path d="M6.4 9 L7 16.2 Q7.2 18.4 9.4 18.4 H12.4 Q14.6 18.4 14.8 16.2 L15.4 9"/><path d="M9.5 11.5 V15.3 M12.4 11.5 V15.3"/></svg>
<svg class="b" style="left:970.6px;top:638.1px" width="24" height="22" viewBox="0 0 24 22" fill="none" stroke="#1e1d29" stroke-width="1.3" stroke-linecap="round" stroke-linejoin="round"><path d="M7.6 18.3 L7.9 15.3 Q8.2 13.8 9.2 12.8 L16.4 5.6 Q18.1 4 19.8 5.6 Q21.4 7.3 19.8 9 L12.6 16.2 Q11.6 17.2 10.1 17.6 Z"/><path d="M15.5 6.7 L18.8 10"/></svg>
<div class="t" id="showing" style="left:318.70px;top:695.80px;font-size:8.5px;color:#a09eb4;font-weight:400;letter-spacing:0.000px;-webkit-text-stroke:0.15px #a09eb4;transform:scaleX(0.9374);transform-origin:0 0;">Showing 1 to 35</div>
<div class="b" style="left:879.7px;top:687.2px;width:26.6px;height:26.6px;background:#b83ddc;border-radius:50%"></div>
<div class="t" id="p1" style="left:890.60px;top:697.18px;font-size:9px;color:#fff;font-weight:700;letter-spacing:0.000px;">1</div>
<div class="b" style="left:919.6px;top:687.2px;width:25.6px;height:25.6px;border:0.9px solid #dddbe3;border-radius:50%"></div>
<div class="t" id="p2" style="left:930.20px;top:697.68px;font-size:9px;color:#22212c;font-weight:400;letter-spacing:0.000px;">2</div>
<div class="t" id="next" style="left:970.70px;top:695.80px;font-size:8.5px;color:#22212c;font-weight:400;letter-spacing:0.028px;">Next</div>
</body></html>
